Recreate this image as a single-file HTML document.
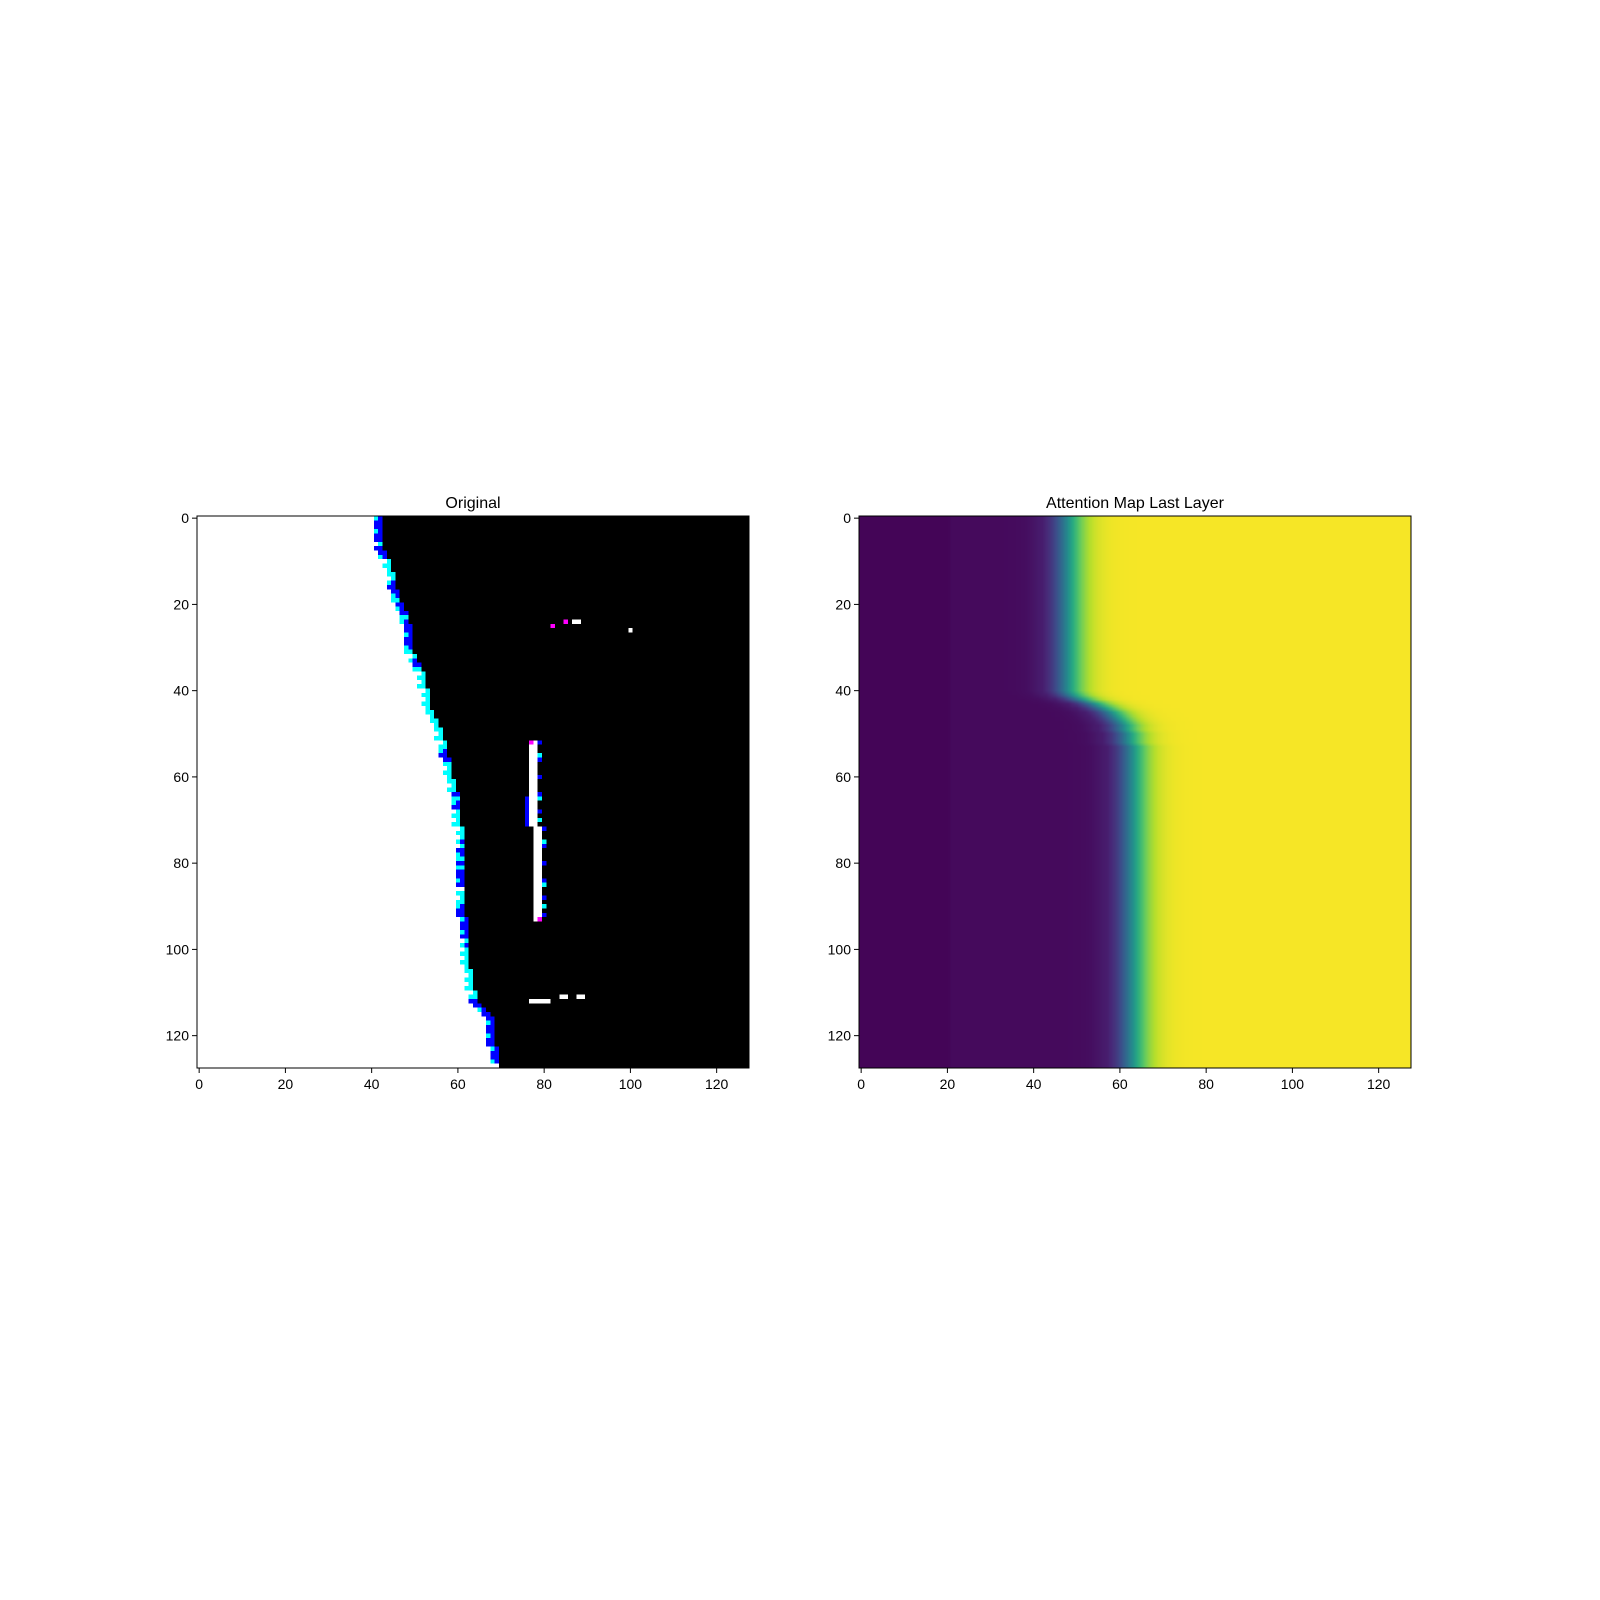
<!DOCTYPE html>
<html><head><meta charset="utf-8">
<style>
body{margin:0;background:#fff;width:1600px;height:1600px;overflow:hidden;font-family:"Liberation Sans",sans-serif;}
#fig{position:absolute;left:0;top:0;}
canvas{position:absolute;}
</style></head>
<body>
<canvas id="imgL" width="128" height="128" style="left:197px;top:516px;width:552px;height:552px;image-rendering:pixelated;"></canvas>
<canvas id="imgR" width="128" height="128" style="left:859px;top:516px;width:552px;height:552px;"></canvas>
<svg id="fig" width="1600" height="1600"></svg>
<script>
const blackStart=[43,43,43,43,43,43,43,43,44,44,45,45,45,46,46,46,46,47,47,47,48,48,49,49,49,50,50,50,50,50,50,50,51,51,52,52,53,53,53,53,54,54,54,54,54,55,55,56,56,57,57,57,58,58,58,58,59,59,59,59,59,60,60,60,61,61,61,61,61,61,61,61,62,62,62,62,62,62,62,62,62,62,62,62,62,62,62,62,62,62,62,62,62,63,63,63,63,63,63,63,63,63,63,63,63,64,64,64,64,64,65,65,65,66,67,68,69,69,69,69,69,69,69,70,70,70,70,70];
const fringe="bbbbbbcbbbcccccbbbbcbbbcbbbbbbbccbbcccccccccccccccccccbbbcccccccbcbbcccccccbcbbcbcbbbbncccbbbbbbbbcbccccccccccccbbbbbbbbbbbbbbb";
const specks=[[24,87,'w'],[24,88,'w'],[26,100,'w'],[25,82,'m'],[24,85,'m'],[111,84,'w'],[111,85,'w'],[111,88,'w'],[111,89,'w'],[112,77,'w'],[112,78,'w'],[112,79,'w'],[112,80,'w'],[112,81,'w'],[52,77,'m'],[93,79,'m']];
const stickRows=[52,93];
const attnCenter=[48,48,48,48,48,48,48,48,48,48,48,48,48,48,48,48,48,48,48,48,48,48,48,48,48,48,48,48,48,48,48,48,48,48,48,48,48,48,48,48,48,49,51,54,56,58,59,60,61,61,62,62,62,63,63,63,63,63,63,63,63,63,63,63,63,63,63,63,63,63,63,63,63,63,63,63,63,63,63,63,63,63,63,63,63,63,63,63,63,63,63,63,63,63,63,63,63,63,63,63,63,63,63,63,63,63,63,63,63,63,63,63,63,63,63,63,63,63,63,63,63,63,63,63,63,63,63,63];
const ticks=[0,20,40,60,80,100,120];

const COL={w:[255,255,255],k:[0,0,0],b:[0,0,255],c:[0,255,255],m:[255,0,255]};
(function(){
 const cv=document.getElementById('imgL'),ctx=cv.getContext('2d'),im=ctx.createImageData(128,128);
 function set(r,c,col){const i=(r*128+c)*4;im.data[i]=col[0];im.data[i+1]=col[1];im.data[i+2]=col[2];im.data[i+3]=255;}
 for(let r=0;r<128;r++){
  for(let c=0;c<128;c++) set(r,c,c<blackStart[r]?COL.w:COL.k);
  const f=fringe[r];
  if(f==='b'){set(r,blackStart[r]-1,COL.b);set(r,blackStart[r]-2,(r%3)?COL.b:COL.c);}
  else if(f==='c'){set(r,blackStart[r]-1,COL.c);if(r%2)set(r,blackStart[r]-2,COL.c);}
 }
 for(let r=stickRows[0];r<=stickRows[1];r++){
  const c0=r<72?77:78;
  set(r,c0,COL.w);set(r,c0+1,COL.w);
  if(r%4===0)set(r,c0+2,COL.b);else if(r%5===0)set(r,c0+2,COL.c);
  if(r>64&&r<72)set(r,76,COL.b);
 }
 specks.forEach(s=>set(s[0],s[1],COL[s[2]]));
 ctx.putImageData(im,0,0);
})();
const VIR=[[68,1,84],[72,40,120],[62,74,137],[49,104,142],[38,130,142],[31,158,137],[53,183,121],[109,205,89],[180,222,44],[253,231,37]];
function vir(t){t=Math.max(0,Math.min(1,t));const x=t*(VIR.length-1),i=Math.min(VIR.length-2,Math.floor(x)),f=x-i;return VIR[i].map((v,k)=>Math.round(v+(VIR[i+1][k]-v)*f));}
(function(){
 const cv=document.getElementById('imgR'),ctx=cv.getContext('2d'),im=ctx.createImageData(128,128);
 for(let r=0;r<128;r++)for(let c=0;c<128;c++){
  const t=(c-attnCenter[r])/7;let v=1/(1+Math.exp(-t*3));
  v=0.01+v*0.98+(c>20&&c<attnCenter[r]-6?0.015:0);
  const col=vir(v),i=(r*128+c)*4;
  im.data[i]=col[0];im.data[i+1]=col[1];im.data[i+2]=col[2];im.data[i+3]=255;}
 ctx.putImageData(im,0,0);
})();
const svg=document.getElementById('fig'),NS='http://www.w3.org/2000/svg';
function mk(tag,attrs,parent){const e=document.createElementNS(NS,tag);for(const k in attrs)e.setAttribute(k,attrs[k]);(parent||svg).appendChild(e);return e;}
[[197,'Original','left'],[859,'Attention Map Last Layer','right']].forEach(([L,title,side])=>{
 const g=mk('g',{});
 
 
 const sc=v=>(v+0.5)*552/128;
 const fr=mk('rect',{x:L,y:516,width:552,height:552,fill:'none',stroke:'#000','stroke-width':1},g);
 
 
 ticks.forEach(v=>{
  const x=L+sc(v),y=516+sc(v);
  mk('line',{x1:x,x2:x,y1:1068,y2:1073,stroke:'#000'},g);
  const tx=mk('text',{x:x,y:1089,'font-size':14,'text-anchor':'middle'},g);tx.textContent=v;
  
  
  mk('line',{x1:L-5,x2:L,y1:y,y2:y,stroke:'#000'},g);
  const ty=mk('text',{x:L-8,y:y+5,'font-size':14,'text-anchor':'end'},g);ty.textContent=v;
  
  
 });
 const t=mk('text',{x:L+276,y:508,'font-size':16,'text-anchor':'middle'},g);t.textContent=title;
 
 
});
</script>
</body></html>
